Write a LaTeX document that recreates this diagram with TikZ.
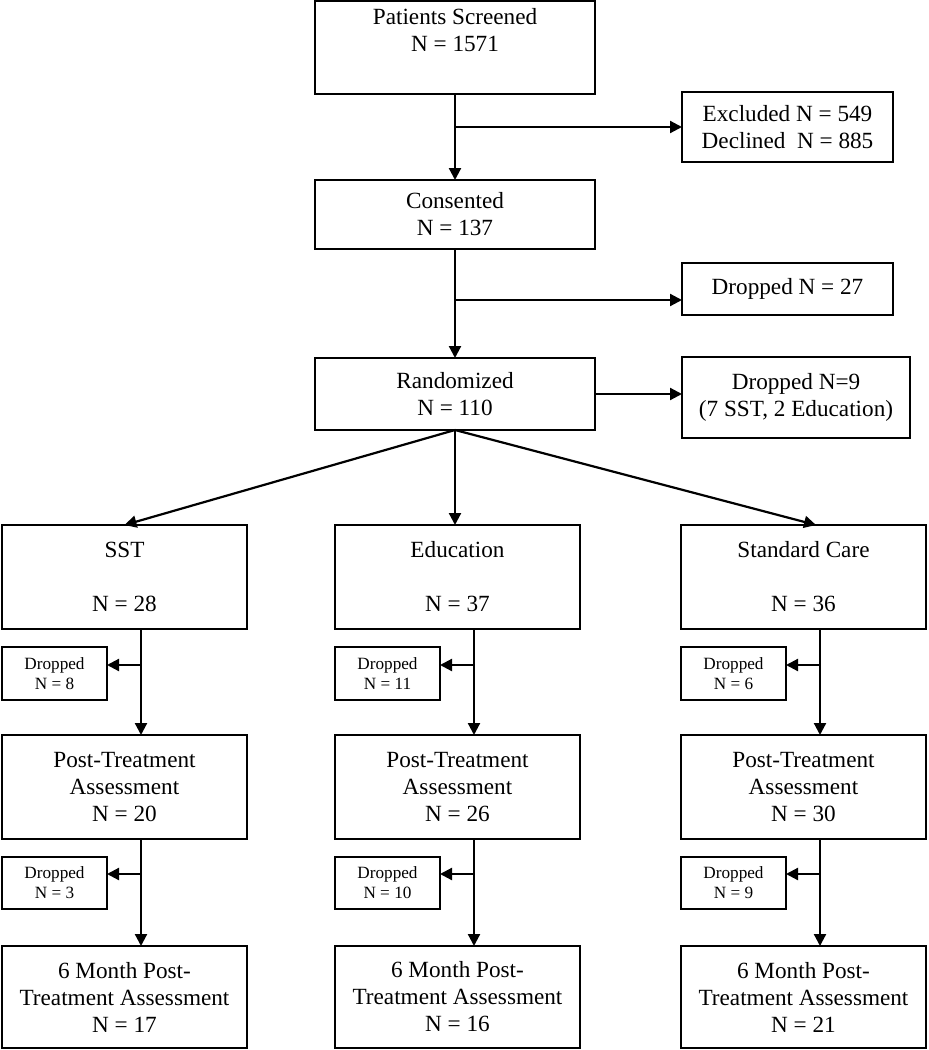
\documentclass[tikz,border=0pt]{standalone}
\usepackage{fontspec}
\setmainfont{Liberation Serif}
\usetikzlibrary{arrows.meta}

\begin{document}
\begin{tikzpicture}[x=0.5pt, y=-0.5pt, line width=1.1pt,
    >={Triangle[length=6pt,width=6pt]},
    box/.style={draw, inner sep=0pt, outer sep=0pt, align=center,
      font=\fontsize{11.6}{13.5}\selectfont},
    dropbox/.style={box, font=\fontsize{8.6}{10}\selectfont}]
  \useasboundingbox (0,0) rectangle (928,1050);

  % main column
  \node[box, minimum width=140pt, minimum height=46.5pt] (screened) at (455,47.5) {Patients Screened\\N = 1571\\\strut};
  \node[box, minimum width=105.5pt, minimum height=35pt] (excluded) at (787.5,127) {Excluded N = 549\\Declined\ \ N = 885};
  \node[box, minimum width=140pt, minimum height=34.5pt] (consented) at (455,214.5) {Consented\\N = 137};
  \node[box, minimum width=105.5pt, minimum height=26pt] (dropA) at (787.5,289) {Dropped N = 27};
  \node[box, minimum width=140pt, minimum height=36pt] (randomized) at (455,394) {Randomized\\N = 110};
  \node[box, minimum width=114pt, minimum height=40.5pt] (dropB) at (796,397.5) {Dropped N=9\\(7 SST, 2 Education)};

  \draw[->] (screened) -- (consented);
  \draw[->] (screened.south |- excluded.west) -- (excluded.west);
  \draw[->] (consented) -- (randomized);
  \coordinate (tipA) at ([yshift=-5.5pt]dropA.west);
  \draw[->] (consented.south |- tipA) -- (tipA);
  \draw[->] (randomized.east) -- (randomized.east -| dropB.west);

  % three arms
  \foreach \c/\L/\grp/\na/\nb/\nc/\nd/\ne in {sst/2/SST/28/8/20/3/17, edu/335/Education/37/11/26/10/16, care/681/Standard Care/36/6/30/9/21}{
    \node[box, minimum width=122.5pt, minimum height=52pt] (\c) at ({\L+122.5},577) {\grp\\[13.5pt]N = \na};
    \node[dropbox, minimum width=52.5pt, minimum height=26.5pt] (\c-drop1) at ({\L+52.5},673.5) {Dropped\\N = \nb};
    \node[box, minimum width=122.5pt, minimum height=52pt] (\c-post) at ({\L+122.5},787) {Post-Treatment\\Assessment\\N = \nc};
    \node[dropbox, minimum width=52.5pt, minimum height=26pt] (\c-drop2) at ({\L+52.5},883) {Dropped\\N = \nd};
    \node[box, minimum width=122.5pt, minimum height=51pt] (\c-six) at ({\L+122.5},997) {6 Month Post-\\Treatment Assessment\\N = \ne};

    \coordinate (\c-top) at ([xshift=8.25pt]\c.south);
    \coordinate (\c-mid) at ([xshift=8.25pt]\c-post.south);
    \coordinate (\c-tip1) at ([yshift=4.25pt]\c-drop1.east);
    \coordinate (\c-tip2) at ([yshift=4.5pt]\c-drop2.east);
    \draw[->] (\c-top) -- (\c-top |- \c-post.north);
    \draw[->] (\c-tip1 -| \c-top) -- (\c-tip1);
    \draw[->] (\c-mid) -- (\c-mid |- \c-six.north);
    \draw[->] (\c-tip2 -| \c-mid) -- (\c-tip2);
  }

  \draw[->] (randomized.south) -- (sst.north);
  \draw[->] (randomized.south) -- (randomized.south |- edu.north);
  \draw[->] (randomized.south) -- ([xshift=6.25pt]care.north);
\end{tikzpicture}
\end{document}
